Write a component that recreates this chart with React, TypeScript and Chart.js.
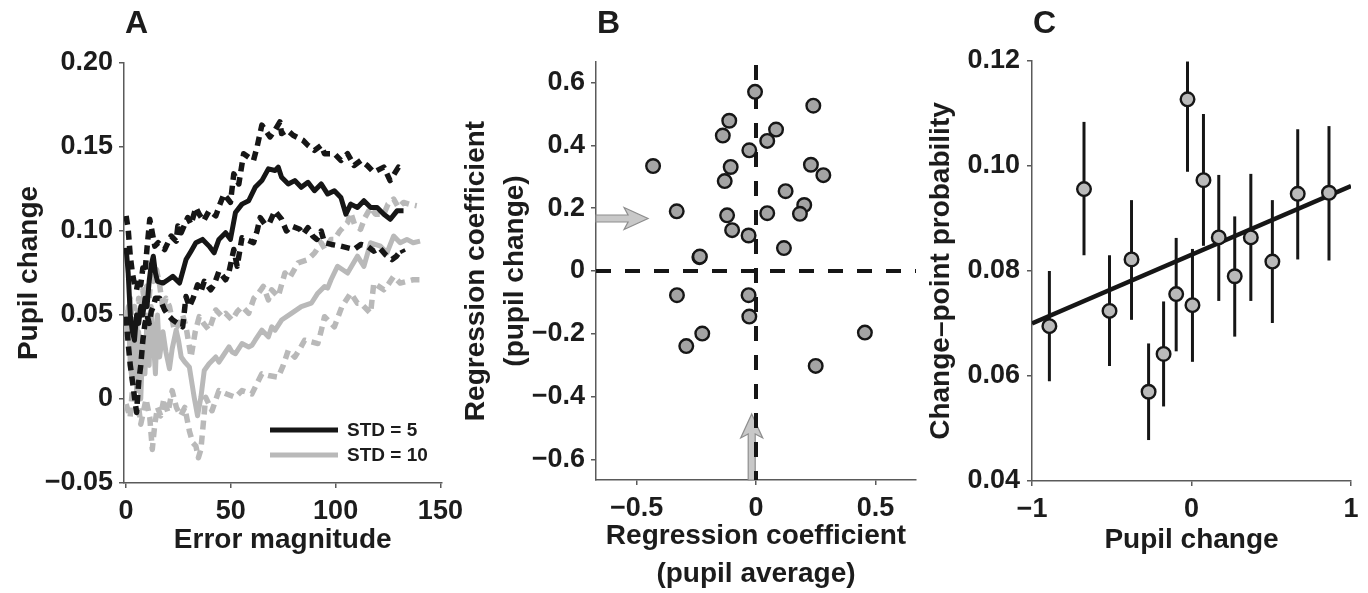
import React, { useEffect, useRef } from 'react';
import { Chart, registerables } from 'chart.js';

Chart.register(...registerables);

const FONT = "'Liberation Sans', Arial, Helvetica, sans-serif";
const TEXT = '#1c1c1c';
const AXIS = '#5a5a5a';
const BLACK = '#161616';
const GRAY = '#b9b9b9';

// ---------------- Panel A data ----------------
const aXTicks = [0, 50, 100, 150];
const aYTicks = [-0.05, 0, 0.05, 0.1, 0.15, 0.2];

const std5MeanX = [0, 1, 2, 3, 4, 5, 6, 7, 8, 9, 10, 11, 12, 13, 14, 15, 17.6, 20, 22.3, 25.5, 28.6, 31, 33.3, 36.5, 39.6, 42, 44.3, 47.5, 49.8, 52.2, 55.3, 58.5, 61.6, 64.8, 67.9, 71.1, 72.6, 74.2, 77.4, 80.5, 83.6, 86.8, 89.9, 93.1, 96.2, 99.4, 102.5, 104.9, 107.2, 110.4, 113.5, 116.7, 119.8, 123, 126.1, 129.3, 132.4];
const std5MeanY = [0.09, 0.075, 0.05, 0.04, 0.035, 0.05, 0.045, 0.055, 0.05, 0.06, 0.055, 0.07, 0.08, 0.085, 0.075, 0.07, 0.069, 0.071, 0.073, 0.069, 0.083, 0.088, 0.093, 0.095, 0.091, 0.087, 0.095, 0.099, 0.095, 0.111, 0.116, 0.118, 0.126, 0.13, 0.137, 0.136, 0.138, 0.132, 0.128, 0.13, 0.126, 0.129, 0.124, 0.128, 0.122, 0.124, 0.12, 0.11, 0.116, 0.114, 0.118, 0.114, 0.114, 0.11, 0.107, 0.112, 0.112];

const std5UpX = [0, 1, 2, 3, 4, 5, 6, 7, 8, 9, 10, 11.3, 12.5, 13.7, 15.3, 18.4, 21.5, 23.9, 24.7, 26.3, 29.4, 31, 33.3, 34.9, 37, 39.6, 42.8, 44.5, 46.7, 49.8, 51.4, 53.8, 56.1, 60.8, 62.5, 64.8, 68.7, 71, 73.4, 74.2, 77, 79.7, 84.4, 86.8, 89.9, 93.1, 94.7, 99.4, 102.5, 105.7, 108.8, 112, 115.1, 118.2, 123, 126, 130, 132.4];
const std5UpY = [0.109, 0.101, 0.085, 0.075, 0.068, 0.065, 0.072, 0.068, 0.078, 0.075, 0.09, 0.107, 0.099, 0.091, 0.093, 0.089, 0.097, 0.094, 0.103, 0.099, 0.108, 0.104, 0.114, 0.11, 0.106, 0.112, 0.109, 0.115, 0.122, 0.117, 0.134, 0.128, 0.146, 0.142, 0.15, 0.163, 0.156, 0.16, 0.165, 0.158, 0.16, 0.157, 0.154, 0.151, 0.148, 0.151, 0.146, 0.146, 0.142, 0.146, 0.139, 0.142, 0.139, 0.135, 0.138, 0.13, 0.138, 0.136];

const std5LowX = [0, 1, 2, 3, 4, 5, 6, 7, 8, 9, 10, 11, 12, 13, 14, 16, 18.4, 20, 22.3, 24.7, 27, 28.6, 30.2, 32, 34.1, 35.7, 37.3, 40.4, 42, 44.3, 47.5, 49, 51.4, 53, 55.3, 60.8, 62.5, 64, 66.3, 68.5, 71, 74.2, 76.5, 78.9, 82.9, 84.5, 86.8, 89.1, 91, 93.1, 94.7, 98, 102.5, 108.8, 112, 115.1, 118.2, 121, 123.7, 126.9, 129, 131.6, 132.4];
const std5LowY = [0.049, 0.033, 0.02, 0.011, 0.001, -0.008, 0.01, 0.02, 0.035, 0.045, 0.05, 0.045, 0.052, 0.055, 0.06, 0.06, 0.053, 0.05, 0.047, 0.045, 0.043, 0.061, 0.055, 0.06, 0.068, 0.064, 0.07, 0.065, 0.068, 0.076, 0.071, 0.075, 0.089, 0.079, 0.096, 0.093, 0.1, 0.108, 0.104, 0.105, 0.112, 0.107, 0.1, 0.103, 0.101, 0.098, 0.102, 0.097, 0.095, 0.1, 0.093, 0.092, 0.091, 0.089, 0.092, 0.091, 0.088, 0.09, 0.086, 0.083, 0.085, 0.089, 0.087];

const std10MeanX = [0, 1, 2, 3, 4, 5, 6, 7, 8, 9, 10, 11, 12, 13, 14, 15, 16, 17.6, 19, 20.7, 22, 23.9, 25, 26.3, 28, 30.2, 32.5, 34.1, 35.7, 37.3, 39.6, 42.8, 44.3, 45.9, 49.1, 50.6, 52.2, 55.3, 58.5, 60.1, 61.6, 64.8, 67.9, 69.5, 71.1, 74.2, 78.9, 83.6, 88.4, 91.5, 94.7, 96.2, 97.8, 100.9, 105.7, 110.4, 113.5, 116.7, 121.4, 124.5, 127.7, 130.8, 134, 137, 140.3];
const std10MeanY = [0.04, 0.055, 0.02, 0.01, 0.045, 0.005, 0.04, 0.0, 0.035, 0.015, 0.05, 0.02, 0.055, 0.035, 0.015, 0.05, 0.025, 0.04, 0.028, 0.018, 0.03, 0.041, 0.035, 0.025, 0.022, 0.019, 0.001, -0.01, 0.001, 0.017, 0.021, 0.025, 0.022, 0.025, 0.031, 0.028, 0.027, 0.033, 0.031, 0.032, 0.035, 0.041, 0.037, 0.043, 0.041, 0.047, 0.051, 0.055, 0.057, 0.063, 0.067, 0.066, 0.071, 0.079, 0.075, 0.085, 0.079, 0.093, 0.091, 0.087, 0.097, 0.093, 0.095, 0.093, 0.094];

const std10UpX = [0, 1, 2, 3, 4, 5, 6, 7, 8, 9, 10, 11, 12, 13, 14.5, 16, 17.6, 19, 20.7, 23, 25.5, 27, 28.6, 31, 33, 34.9, 37, 39.6, 42.8, 45.9, 47.5, 50.6, 53, 55.3, 58.5, 61, 63.2, 65.5, 67.9, 69.5, 72.6, 75.8, 78, 82.1, 86.8, 90, 93.1, 95, 97.8, 99.4, 102, 105.7, 107.2, 109, 111.9, 114, 116.7, 119, 123, 125, 127.7, 130, 132.4, 135, 138.7];
const std10UpY = [0.053, 0.041, 0.06, 0.045, 0.055, 0.04, 0.06, 0.05, 0.065, 0.055, 0.07, 0.06, 0.075, 0.07, 0.077, 0.068, 0.053, 0.06, 0.055, 0.041, 0.045, 0.05, 0.043, 0.025, 0.04, 0.049, 0.045, 0.041, 0.053, 0.049, 0.051, 0.047, 0.052, 0.055, 0.051, 0.06, 0.063, 0.067, 0.059, 0.065, 0.061, 0.075, 0.072, 0.081, 0.083, 0.087, 0.093, 0.089, 0.095, 0.095, 0.1, 0.105, 0.111, 0.104, 0.101, 0.108, 0.114, 0.11, 0.11, 0.116, 0.119, 0.114, 0.117, 0.116, 0.115];

const std10LowX = [0, 1.9, 3, 4.5, 5.8, 7, 8.2, 9.5, 11.3, 12.5, 13.7, 15, 16.5, 18, 20, 22, 24, 26, 28, 30.2, 31.8, 33.3, 34.5, 35.7, 38, 41, 44.3, 48, 52.2, 55.3, 60, 62, 64.8, 68, 72.6, 75, 77.4, 80.5, 83, 85.2, 91.5, 93, 94.7, 99.4, 103, 107.2, 110.4, 112, 116.7, 118.2, 123, 125, 127.7, 130.8, 134, 137, 140];
const std10LowY = [-0.003, -0.011, 0.005, 0.0, -0.003, -0.015, -0.008, 0.0, -0.011, -0.03, -0.015, -0.005, -0.01, 0.0, -0.008, 0.005, -0.005, -0.01, -0.005, -0.019, -0.026, -0.028, -0.035, -0.03, 0.001, -0.007, 0.005, 0.003, 0.001, 0.005, 0.003, 0.008, 0.015, 0.014, 0.013, 0.02, 0.029, 0.025, 0.03, 0.035, 0.033, 0.04, 0.049, 0.043, 0.055, 0.063, 0.057, 0.057, 0.051, 0.069, 0.065, 0.068, 0.073, 0.069, 0.07, 0.071, 0.071];

const legendA = ['STD = 5', 'STD = 10'];

// ---------------- Panel B data ----------------
const bXTicks = [-0.5, 0, 0.5];
const bYTicks = [-0.6, -0.4, -0.2, 0, 0.2, 0.4, 0.6];
const coefAverage = [-0.004, 0.24, -0.112, -0.139, 0.084, 0.047, -0.028, -0.431, -0.106, 0.23, 0.282, -0.131, 0.124, -0.332, 0.202, 0.184, -0.121, 0.047, -0.1, -0.031, 0.117, -0.237, -0.235, -0.331, -0.031, -0.028, -0.225, -0.292, 0.456, 0.25];
const coefChange = [0.57, 0.526, 0.478, 0.431, 0.45, 0.414, 0.384, 0.334, 0.331, 0.338, 0.305, 0.286, 0.254, 0.19, 0.21, 0.182, 0.177, 0.184, 0.13, 0.113, 0.073, 0.044, 0.046, -0.077, -0.077, -0.145, -0.199, -0.239, -0.196, -0.302];
const arrowChangeY = 0.167;      // group mean, pupil change coefficient
const arrowChangeTip = -0.452;
const arrowAverageX = -0.018;    // group mean, pupil average coefficient
const arrowAverageTip = -0.455;

// ---------------- Panel C data ----------------
const cXTicks = [-1, 0, 1];
const cYTicks = [0.04, 0.06, 0.08, 0.1, 0.12];
const pupilChangeBins = [-0.891, -0.674, -0.514, -0.376, -0.269, -0.175, -0.096, -0.025, 0.006, 0.075, 0.171, 0.271, 0.372, 0.507, 0.666, 0.862];
const cpProb = [0.0695, 0.0956, 0.0724, 0.0822, 0.057, 0.0642, 0.0756, 0.1127, 0.0735, 0.0973, 0.0864, 0.079, 0.0864, 0.0818, 0.0947, 0.0949];
const cpHigh = [0.08, 0.1084, 0.083, 0.0935, 0.0662, 0.0742, 0.0863, 0.1199, 0.0842, 0.1099, 0.0983, 0.0904, 0.0985, 0.0935, 0.107, 0.1076];
const cpLow = [0.059, 0.083, 0.0619, 0.0707, 0.0478, 0.0542, 0.0647, 0.0989, 0.0627, 0.0848, 0.0743, 0.0675, 0.0743, 0.0701, 0.0822, 0.082];
const fitX = [-1, 1];
const fitY = [0.07, 0.0962];

// ---------------- helpers ----------------
const zip = (xs: number[], ys: number[]) => xs.map((x, i) => ({ x, y: ys[i] }));
const minus = (s: string) => s.replace('-', '\u2212');
const fmt = (d: number) => (v: number) => (Math.abs(v) < 1e-9 ? '0' : minus(v.toFixed(d)));

function axis(o: {
  min: number; max: number; ticks: number[]; fmt: (v: number) => string;
  size: (s: any) => void; pad: number; title: any;
}) {
  return {
    type: 'linear',
    min: o.min,
    max: o.max,
    afterBuildTicks: (s: any) => { s.ticks = o.ticks.map((v) => ({ value: v })); },
    afterFit: o.size,
    grid: { display: true, drawOnChartArea: false, drawTicks: true, tickLength: 5, color: AXIS, lineWidth: 1.5 },
    border: { display: true, color: AXIS, width: 1.5 },
    ticks: { color: TEXT, font: { family: FONT, size: 27, weight: 'bold' }, padding: o.pad, callback: (v: any) => o.fmt(Number(v)), maxRotation: 0, autoSkip: false },
    title: o.title,
  };
}

const titleFont = (lh: any) => ({ family: FONT, size: 28, weight: 'bold', lineHeight: lh });

const letterPlugin = (letter: string) => ({
  id: 'letter',
  afterDraw(chart: any) {
    const { ctx, chartArea } = chart;
    ctx.save();
    ctx.font = `bold 32px ${FONT}`;
    ctx.fillStyle = TEXT;
    ctx.textBaseline = 'alphabetic';
    ctx.textAlign = 'left';
    ctx.fillText(letter, chartArea.left + 1, 33);
    ctx.restore();
  },
});

function lineDs(xs: number[], ys: number[], color: string, dashed: boolean) {
  return {
    data: zip(xs, ys),
    borderColor: color,
    borderWidth: dashed ? 5.5 : 5,
    borderDash: dashed ? [9, 6] : [],
    borderCapStyle: 'butt',
    borderJoinStyle: 'round',
    pointRadius: 0,
    tension: 0,
    fill: false,
  };
}

function buildA() {
  const legendPlugin = {
    id: 'legendA',
    afterDatasetsDraw(chart: any) {
      const { ctx, chartArea } = chart;
      const colors = [BLACK, GRAY];
      ctx.save();
      legendA.forEach((label, i) => {
        const y = chartArea.bottom - 53 + i * 25;
        ctx.strokeStyle = colors[i];
        ctx.lineWidth = 5;
        ctx.setLineDash([]);
        ctx.beginPath();
        ctx.moveTo(chartArea.left + 146, y);
        ctx.lineTo(chartArea.left + 214, y);
        ctx.stroke();
        ctx.fillStyle = TEXT;
        ctx.font = `bold 19px ${FONT}`;
        ctx.textBaseline = 'middle';
        ctx.fillText(label, chartArea.left + 223, y + 1);
      });
      ctx.restore();
    },
  };
  return {
    type: 'line',
    data: {
      datasets: [
        lineDs(std5MeanX, std5MeanY, BLACK, false),
        lineDs(std5UpX, std5UpY, BLACK, true),
        lineDs(std5LowX, std5LowY, BLACK, true),
        lineDs(std10MeanX, std10MeanY, GRAY, false),
        lineDs(std10UpX, std10UpY, GRAY, true),
        lineDs(std10LowX, std10LowY, GRAY, true),
      ],
    },
    options: {
      responsive: false,
      animation: false,
      events: [],
      layout: { padding: { left: 0, right: 24, top: 63, bottom: 0 } },
      plugins: { legend: { display: false }, tooltip: { enabled: false } },
      scales: {
        x: axis({
          min: -1, max: 150.5, ticks: aXTicks, fmt: (v) => String(v),
          size: (s: any) => { s.height = 110; }, pad: 7,
          title: { display: true, text: 'Error magnitude', color: TEXT, font: titleFont(1.2), padding: { top: 0, bottom: 36 } },
        }),
        y: axis({
          min: -0.05, max: 0.2, ticks: aYTicks, fmt: fmt(2),
          size: (s: any) => { s.width = 124; }, pad: 6,
          title: { display: true, text: 'Pupil change', color: TEXT, font: titleFont(1.2), padding: { top: 12, bottom: 0 } },
        }),
      },
    },
    plugins: [legendPlugin, letterPlugin('A')],
  };
}

function drawArrow(ctx: CanvasRenderingContext2D, x0: number, y0: number, x1: number, y1: number) {
  const ang = Math.atan2(y1 - y0, x1 - x0);
  const len = Math.hypot(x1 - x0, y1 - y0);
  const headL = 24, headW = 11, shaftW = 3.5;
  ctx.save();
  ctx.translate(x0, y0);
  ctx.rotate(ang);
  ctx.beginPath();
  ctx.moveTo(0, -shaftW);
  ctx.lineTo(len - headL + 4, -shaftW);
  ctx.lineTo(len - headL, -headW);
  ctx.lineTo(len, 0);
  ctx.lineTo(len - headL, headW);
  ctx.lineTo(len - headL + 4, shaftW);
  ctx.lineTo(0, shaftW);
  ctx.closePath();
  ctx.fillStyle = '#c8c8c8';
  ctx.fill();
  ctx.strokeStyle = '#8e8e8e';
  ctx.lineWidth = 1.2;
  ctx.stroke();
  ctx.restore();
}

function buildB() {
  const refPlugin = {
    id: 'refB',
    beforeDatasetsDraw(chart: any) {
      const { ctx, chartArea, scales } = chart;
      const x = scales.x, y = scales.y;
      ctx.save();
      drawArrow(ctx, chartArea.left, y.getPixelForValue(arrowChangeY), x.getPixelForValue(arrowChangeTip), y.getPixelForValue(arrowChangeY));
      drawArrow(ctx, x.getPixelForValue(arrowAverageX), chartArea.bottom, x.getPixelForValue(arrowAverageX), y.getPixelForValue(arrowAverageTip));
      ctx.strokeStyle = BLACK;
      ctx.lineWidth = 4;
      ctx.setLineDash([15, 14]);
      ctx.beginPath();
      ctx.moveTo(chartArea.left, y.getPixelForValue(0));
      ctx.lineTo(chartArea.right, y.getPixelForValue(0));
      ctx.stroke();
      ctx.beginPath();
      ctx.moveTo(x.getPixelForValue(0), chartArea.top + 3);
      ctx.lineTo(x.getPixelForValue(0), chartArea.bottom);
      ctx.stroke();
      ctx.restore();
    },
  };
  return {
    type: 'scatter',
    data: {
      datasets: [
        {
          data: zip(coefAverage, coefChange),
          backgroundColor: '#a4a4a4',
          borderColor: BLACK,
          borderWidth: 2.4,
          pointRadius: 6.8,
        },
      ],
    },
    options: {
      responsive: false,
      animation: false,
      events: [],
      layout: { padding: { left: 0, right: 19, top: 62, bottom: 0 } },
      plugins: { legend: { display: false }, tooltip: { enabled: false } },
      scales: {
        x: axis({
          min: -0.67, max: 0.67, ticks: bXTicks, fmt: fmt(1),
          size: (s: any) => { s.height = 113; }, pad: 7,
          title: { display: true, text: ['Regression coefficient', '(pupil average)'], color: TEXT, font: titleFont('38px'), padding: { top: 0, bottom: 0 } },
        }),
        y: axis({
          min: -0.665, max: 0.665, ticks: bYTicks, fmt: fmt(1),
          size: (s: any) => { s.width = 141; }, pad: 6,
          title: { display: true, text: ['Regression coefficient', '(pupil change)'], color: TEXT, font: titleFont('39px'), padding: { top: 2, bottom: 0 } },
        }),
      },
    },
    plugins: [refPlugin, letterPlugin('B')],
  };
}

function buildC() {
  const errPlugin = {
    id: 'errC',
    beforeDatasetsDraw(chart: any) {
      const { ctx, scales } = chart;
      ctx.save();
      ctx.strokeStyle = BLACK;
      ctx.lineWidth = 3;
      pupilChangeBins.forEach((xv, i) => {
        const px = scales.x.getPixelForValue(xv);
        ctx.beginPath();
        ctx.moveTo(px, scales.y.getPixelForValue(cpLow[i]));
        ctx.lineTo(px, scales.y.getPixelForValue(cpHigh[i]));
        ctx.stroke();
      });
      ctx.restore();
    },
  };
  return {
    type: 'scatter',
    data: {
      datasets: [
        {
          data: zip(pupilChangeBins, cpProb),
          backgroundColor: '#bababa',
          borderColor: BLACK,
          borderWidth: 2.4,
          pointRadius: 6.8,
        },
        {
          type: 'line',
          data: zip(fitX, fitY),
          borderColor: BLACK,
          borderWidth: 4.5,
          pointRadius: 0,
          fill: false,
        },
      ],
    },
    options: {
      responsive: false,
      animation: false,
      events: [],
      layout: { padding: { left: 0, right: 17, top: 61, bottom: 0 } },
      plugins: { legend: { display: false }, tooltip: { enabled: false } },
      scales: {
        x: axis({
          min: -1, max: 1, ticks: cXTicks, fmt: fmt(0),
          size: (s: any) => { s.height = 112; }, pad: 7,
          title: { display: true, text: 'Pupil change', color: TEXT, font: titleFont(1.2), padding: { top: 0, bottom: 36 } },
        }),
        y: axis({
          min: 0.04, max: 0.12, ticks: cYTicks, fmt: fmt(2),
          size: (s: any) => { s.width = 112; }, pad: 7,
          title: { display: true, text: 'Change\u2013point probability', color: TEXT, font: titleFont(1.2), padding: { top: 4, bottom: 0 } },
        }),
      },
    },
    plugins: [errPlugin, letterPlugin('C')],
  };
}

function Panel({ left, width, build }: { left: number; width: number; build: () => any }) {
  const ref = useRef<HTMLCanvasElement>(null);
  useEffect(() => {
    const chart = new Chart(ref.current as HTMLCanvasElement, build() as any);
    return () => chart.destroy();
  }, []);
  return (
    <canvas
      ref={ref}
      width={width}
      height={593}
      style={{ position: 'absolute', left, top: 0, width, height: 593 }}
    />
  );
}

export default function App() {
  return (
    <div style={{ position: 'absolute', left: 0, top: 0, width: 1368, height: 593, overflow: 'hidden', background: '#fff' }}>
      <Panel left={0} width={470} build={buildA} />
      <Panel left={455} width={480} build={buildB} />
      <Panel left={920} width={448} build={buildC} />
    </div>
  );
}
